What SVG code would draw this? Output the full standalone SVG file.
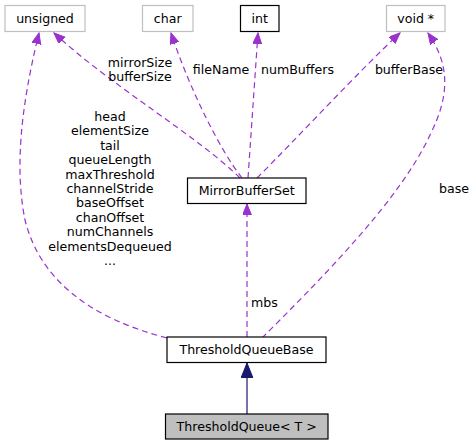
<svg xmlns="http://www.w3.org/2000/svg" width="476" height="445" viewBox="0 0 476 445">
<defs>
<marker id="ap" markerUnits="userSpaceOnUse" markerWidth="12" markerHeight="10" refX="11" refY="4.5" orient="auto" viewBox="0 0 12 10">
<polygon points="0,0 11,4.5 0,9" fill="#9a32cd" stroke="#9a32cd" stroke-width="1"/>
</marker>
<marker id="ab" markerUnits="userSpaceOnUse" markerWidth="16" markerHeight="12" refX="15" refY="6" orient="auto" viewBox="0 0 16 12">
<polygon points="0,0 15,6 0,12" fill="#191970" stroke="#191970" stroke-width="1"/>
</marker>
<style>
text{font-family:"DejaVu Sans","Liberation Sans",sans-serif;font-size:12.6px;fill:#000;text-anchor:middle}
.box{fill:#fff;stroke:#000;stroke-width:1.2}
.ext{fill:#fff;stroke:#bfbfbf;stroke-width:1.2}
.cur{fill:#bfbfbf;stroke:#000;stroke-width:1.2}
.d{fill:none;stroke:#9a32cd;stroke-width:1.2;stroke-dasharray:6,4;marker-end:url(#ap)}
.s{fill:none;stroke:#191970;stroke-width:1.2;marker-end:url(#ab)}
</style>
</defs>
<g id="connectors">
<path class="d" d="M167,338 C90,318 40,280 25,220 C15,170 20,110 39,33"/>
<path class="d" d="M240,178 C200,138 110,85 54,33"/>
<path class="d" d="M242,178 C220,150 190,90 171,33"/>
<path class="d" d="M248,178 L258,33"/>
<path class="d" d="M257,178 C300,135 360,70 400,33"/>
<path class="d" d="M262,338 C320,280 400,200 430,135 C450,95 450,65 428,33"/>
<path class="d" d="M247,337 L247,204"/>
<path class="s" d="M247,414 L247,363"/>
<text x="140" y="67">mirrorSize</text>
<text x="140" y="81">bufferSize</text>
<text x="221" y="74">fileName</text>
<text x="297.5" y="74">numBuffers</text>
<text x="409" y="74">bufferBase</text>
<text x="454" y="193">base</text>
<text x="264.5" y="307">mbs</text>
<text x="110" y="121">head</text>
<text x="110" y="135.4">elementSize</text>
<text x="110" y="149.8">tail</text>
<text x="110" y="164.2">queueLength</text>
<text x="110" y="178.6">maxThreshold</text>
<text x="110" y="193">channelStride</text>
<text x="110" y="207.4">baseOffset</text>
<text x="110" y="221.8">chanOffset</text>
<text x="110" y="236.2">numChannels</text>
<text x="110" y="250.6">elementsDequeued</text>
<text x="110" y="265">...</text>
</g>
<g id="unsigned"><rect class="ext" x="5" y="5.5" width="80" height="26"/><text x="45" y="22.5">unsigned</text></g>
<g id="char"><rect class="ext" x="142.5" y="5.5" width="50.5" height="26"/><text x="167.7" y="22.5">char</text></g>
<g id="int"><rect class="box" x="240.5" y="5.5" width="38.5" height="26"/><text x="259.7" y="22.5">int</text></g>
<g id="void"><rect class="ext" x="386.5" y="5.5" width="58.5" height="26"/><text x="415.7" y="22.5">void *</text></g>
<g id="MirrorBufferSet"><rect class="box" x="187.5" y="178" width="118.5" height="25.5"/><text x="246.7" y="195">MirrorBufferSet</text></g>
<g id="ThresholdQueueBase"><rect class="box" x="167" y="337" width="159" height="25.5"/><text x="246.5" y="354">ThresholdQueueBase</text></g>
<g id="ThresholdQueue"><rect class="cur" x="165.5" y="414" width="162.5" height="25"/><text x="246.7" y="431">ThresholdQueue&lt; T &gt;</text></g>
</svg>
